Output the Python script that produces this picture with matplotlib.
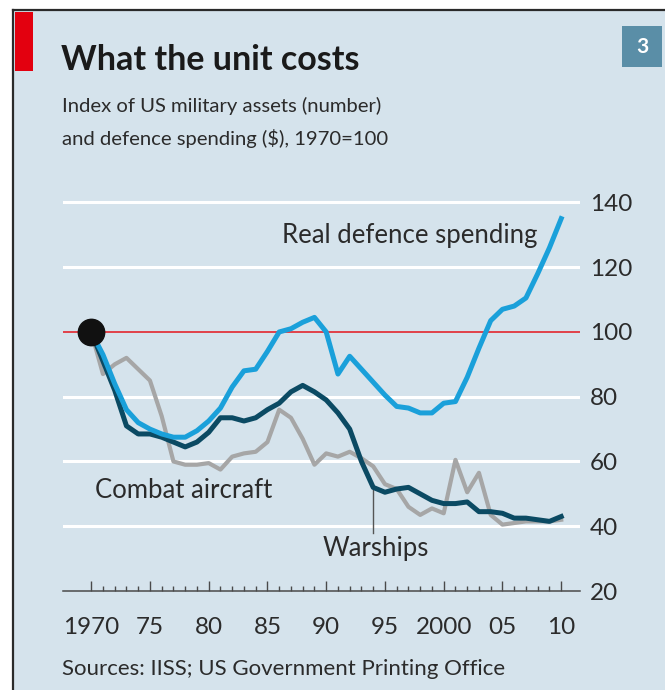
import matplotlib
matplotlib.use('Agg')
import matplotlib.pyplot as plt
from matplotlib.patches import Rectangle
from matplotlib.lines import Line2D
import numpy as np

plt.rcParams['font.family'] = ['Lato', 'DejaVu Sans']

# %%
years = list(range(1970, 2011))

spending = [100, 93, 84, 76, 72, 70, 68.5, 67.5, 67.5, 69.5,
            72.5, 76.5, 83, 88, 88.5, 94, 100, 101, 103, 104.5,
            100, 87, 92.5, 88.5, 84.5, 80.5, 77, 76.5, 75, 75,
            78, 78.5, 86, 95, 103.5, 107, 108, 110.5, 118, 126,
            135]

warships = [100, 91, 82, 71, 68.5, 68.5, 67.5, 66, 64.5, 66,
            69, 73.5, 73.5, 72.5, 73.5, 76, 78, 81.5, 83.5, 81.5,
            79, 75, 70, 60, 52, 50.5, 51.5, 52, 50, 48,
            47, 47, 47.5, 44.5, 44.5, 44, 42.5, 42.5, 42, 41.5,
            43]

aircraft = [100, 87, 90, 92, 88.5, 85, 74, 60, 59, 59,
            59.5, 57.5, 61.5, 62.5, 63, 66, 76, 73.5, 67, 59,
            62.5, 61.5, 63, 61, 58.5, 53, 51.5, 46, 43.5, 45.5,
            44, 60.5, 50.5, 56.5, 43.5, 40.5, 41, 41.5, 41.5, 41.5,
            42]

ytick_vals = [20, 40, 60, 80, 100, 120, 140]
xtick_vals = [1970, 1975, 1980, 1985, 1990, 1995, 2000, 2005, 2010]
xtick_labels = ['1970', '75', '80', '85', '90', '95', '2000', '05', '10']

# %%
W, H = 665, 690
fig = plt.figure(figsize=(W / 100, H / 100), dpi=100, facecolor='white')

def fx(px):
    return px / W

def fy(py):
    return 1 - py / H

bg = '#d5e3ec'
fig.patches.append(Rectangle((fx(13), 0), 1 - fx(13), fy(10), transform=fig.transFigure,
                             facecolor=bg, edgecolor='none', zorder=-5))
fig.lines.append(Line2D([fx(13), 1], [fy(10), fy(10)], transform=fig.transFigure,
                        color='#2a2a2a', lw=1.6))
fig.lines.append(Line2D([fx(13), fx(13)], [0, fy(10)], transform=fig.transFigure,
                        color='#2a2a2a', lw=1.6))
fig.patches.append(Rectangle((fx(15), fy(71)), fx(33) - fx(15), fy(12) - fy(71),
                             transform=fig.transFigure, facecolor='#e3000f', edgecolor='none'))
fig.patches.append(Rectangle((fx(622), fy(67)), fx(662) - fx(622), fy(26) - fy(67),
                             transform=fig.transFigure, facecolor='#5a8ea7', edgecolor='none'))
fig.text(fx(642), fy(47), '3', color='white', fontsize=15, fontweight='bold',
         ha='center', va='center')

fig.text(fx(61), fy(70), 'What the unit costs', fontsize=24.5, fontweight='bold',
         color='#1a1a1a', ha='left', va='baseline')
fig.text(fx(62), fy(112), 'Index of US military assets (number)', fontsize=14.6,
         color='#2b2b2b', ha='left', va='baseline')
fig.text(fx(62), fy(145), 'and defence spending ($), 1970=100', fontsize=14.6,
         color='#2b2b2b', ha='left', va='baseline')
fig.text(fx(62), fy(675), 'Sources: IISS; US Government Printing Office', fontsize=16,
         color='#2b2b2b', ha='left', va='baseline')

# %%
ax = fig.add_axes([fx(63), fy(591), fx(580) - fx(63), fy(195) - fy(591)], zorder=2)
ax.set_facecolor('none')
ax.set_xlim(1967.6, 2011.6)
ax.set_ylim(20, 142.3)

for v in ytick_vals[1:]:
    if v == 100:
        ax.axhline(v, color='#e2343c', lw=1.3, zorder=1)
    else:
        ax.axhline(v, color='white', lw=2.2, zorder=1)

ax.plot(years, aircraft, color='#a6a6a6', lw=3.0, zorder=3, solid_joinstyle='round')
ax.plot(years, warships, color='#0b4a63', lw=3.6, zorder=4, solid_joinstyle='round')
ax.plot(years, spending, color='#1aa0da', lw=3.6, zorder=5, solid_joinstyle='round')
ax.plot([years[0]], [spending[0]], 'o', color='#111111', markersize=19, zorder=6)

for s in ['left', 'right', 'top']:
    ax.spines[s].set_visible(False)
ax.spines['bottom'].set_color('#4a4a4a')
ax.spines['bottom'].set_linewidth(1.1)

ax.set_xticks(xtick_vals)
ax.set_xticklabels(xtick_labels)
ax.set_xticks(years, minor=True)
ax.tick_params(axis='x', which='major', direction='in', length=7.2, width=1.0,
               color='#4a4a4a', labelsize=17.5, labelcolor='#2b2b2b', pad=19)
ax.tick_params(axis='x', which='minor', direction='in', length=3.6, width=1.0,
               color='#4a4a4a')

ax.set_yticks(ytick_vals)
ax.yaxis.tick_right()
ax.tick_params(axis='y', length=0, labelsize=17.5, labelcolor='#2b2b2b', pad=7)

ax.text(2007.96, 129.9, 'Real defence spending', fontsize=18.5, color='#2b2b2b',
        ha='right', va='center', zorder=7)
ax.text(1970.34, 50.9, 'Combat aircraft', fontsize=18.5, color='#2b2b2b',
        ha='left', va='center', zorder=7)
ax.text(1994.25, 33, 'Warships', fontsize=18.5, color='#2b2b2b',
        ha='center', va='center', zorder=7)
ax.plot([1994.0, 1994.0], [38, 51.2], color='#555555', lw=1.0, zorder=2)

fig.savefig('out.png', dpi=100, facecolor=fig.get_facecolor())
